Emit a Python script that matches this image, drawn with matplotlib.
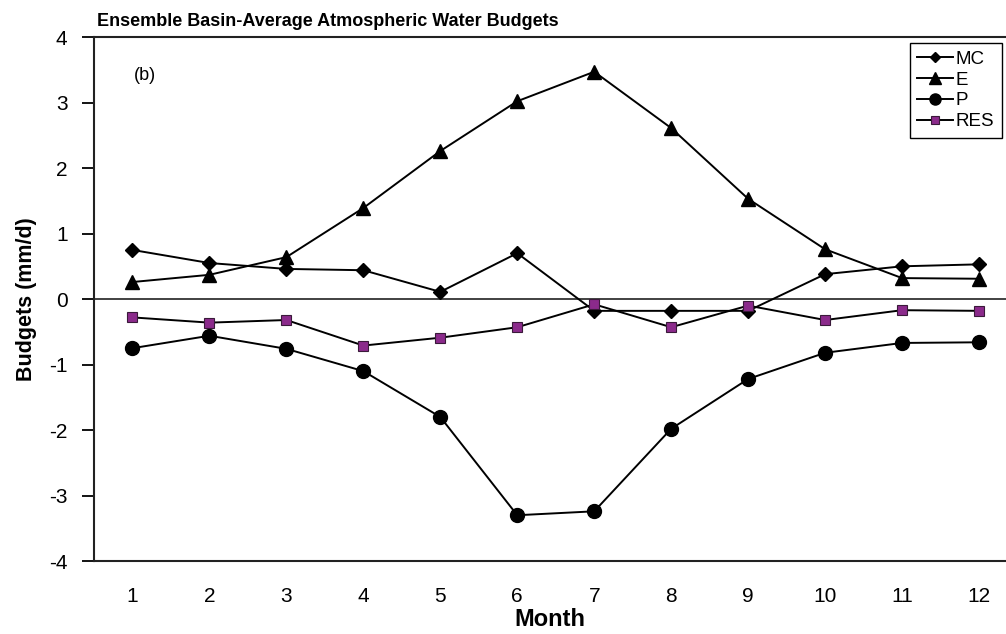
import matplotlib
matplotlib.use("Agg")
import matplotlib.pyplot as plt

plt.rcParams['font.family'] = ['Liberation Sans', 'DejaVu Sans']
plt.rcParams['axes.unicode_minus'] = False

months = [1, 2, 3, 4, 5, 6, 7, 8, 9, 10, 11, 12]
mc = [0.75, 0.55, 0.46, 0.44, 0.11, 0.70, -0.18, -0.18, -0.18, 0.38, 0.50, 0.53]
e = [0.26, 0.37, 0.64, 1.39, 2.26, 3.02, 3.47, 2.61, 1.53, 0.76, 0.32, 0.31]
p = [-0.75, -0.56, -0.76, -1.10, -1.80, -3.30, -3.24, -1.98, -1.22, -0.82, -0.67, -0.66]
res = [-0.28, -0.36, -0.32, -0.71, -0.59, -0.43, -0.08, -0.43, -0.10, -0.32, -0.17, -0.18]

fig = plt.figure(figsize=(10.06, 6.34), dpi=100)
ax = fig.add_axes([0.0934, 0.115, 0.9066, 0.8266])

ax.plot(months, mc, color='black', lw=1.4, marker='D', ms=6.8, label='MC')
ax.plot(months, e, color='black', lw=1.4, marker='^', ms=10, label='E')
ax.plot(months, p, color='black', lw=1.4, marker='o', ms=10, label='P')
ax.plot(months, res, color='black', lw=1.4, marker='s', ms=7,
        mfc='#8B2A8B', mec='#3a1a3a', mew=0.8, label='RES')
ax.axhline(0, color='#333333', lw=1.3, zorder=1)

ax.set_xlim(0.5, 12.35)
ax.set_ylim(-4, 4)
ax.set_xticks(months)
ax.set_yticks(range(-4, 5))
ax.tick_params(axis='x', length=0, labelsize=15, pad=19)
ax.tick_params(axis='y', length=9, width=1.3, labelsize=15, pad=10)

ax.spines['right'].set_visible(False)
for s in ('left', 'bottom', 'top'):
    ax.spines[s].set_linewidth(1.5)
    ax.spines[s].set_color('#222222')

ax.set_xlabel('Month', fontsize=17, fontweight='bold', labelpad=1)
ax.set_ylabel('Budgets (mm/d)', fontsize=15.5, fontweight='bold', labelpad=9)
ax.text(0.003, 1.014, 'Ensemble Basin-Average Atmospheric Water Budgets',
        transform=ax.transAxes, fontsize=13, fontweight='bold', ha='left', va='bottom')
ax.text(1.02, 3.42, '(b)', fontsize=13, va='center', ha='left')

leg = ax.legend(loc='upper right', bbox_to_anchor=(0.9956, 0.9885), borderaxespad=0,
                fontsize=13.5, handlelength=1.9, handletextpad=0.15, borderpad=0.4,
                labelspacing=0.2, fancybox=False, edgecolor='black', framealpha=1,
                markerscale=0.8)
leg.get_frame().set_linewidth(1.0)

fig.savefig('out.png', dpi=100)
